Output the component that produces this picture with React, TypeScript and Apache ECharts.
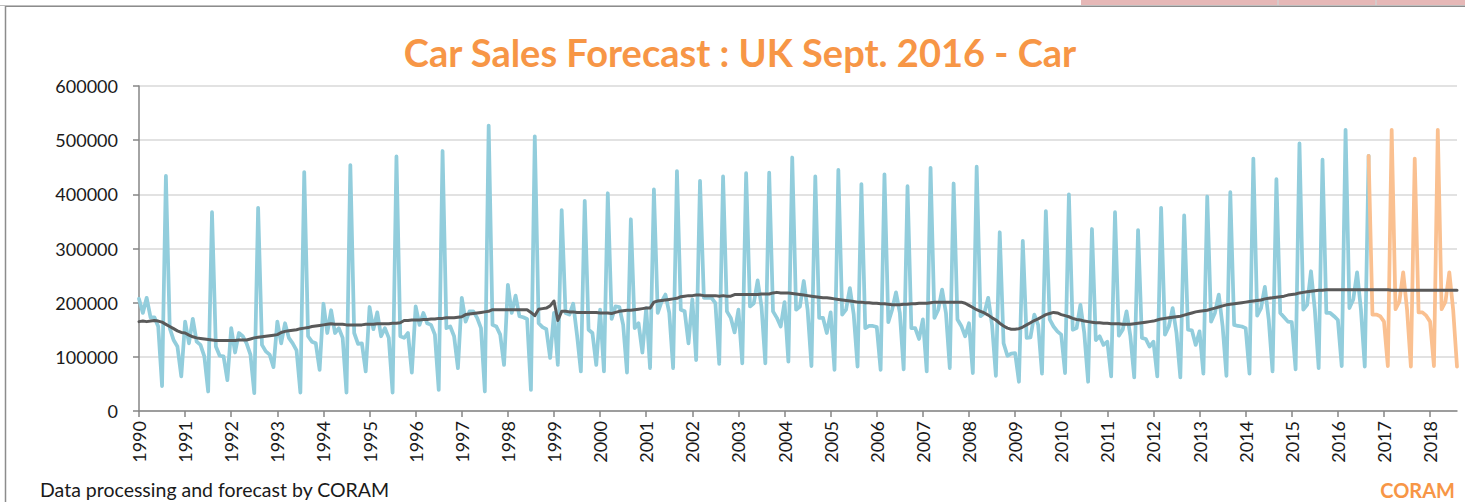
import React, { useEffect, useRef } from "react";
import * as echarts from "echarts";

// Tick labels (one per year) and month names used to build the monthly category axis
const years = [
  "1990", "1991", "1992", "1993", "1994", "1995", "1996", "1997", "1998", "1999",
  "2000", "2001", "2002", "2003", "2004", "2005", "2006", "2007", "2008", "2009",
  "2010", "2011", "2012", "2013", "2014", "2015", "2016", "2017", "2018",
];
const monthNames = ["Jan", "Feb", "Mar", "Apr", "May", "Jun", "Jul", "Aug", "Sep", "Oct", "Nov", "Dec"];

// Actual monthly registrations (thousands), Jan 1990 .. Sep 2016
const actual = [
  207, 181, 209, 173, 173, 156, 46, 434, 153, 131, 119, 64, // 1990
  165, 125, 170, 128, 122, 101, 36, 367, 119, 102, 101, 57, // 1991
  153, 108, 144, 138, 125, 104, 33, 375, 122, 110, 104, 81, // 1992
  165, 125, 162, 135, 125, 112, 34, 441, 138, 128, 125, 76, // 1993
  198, 144, 186, 144, 153, 135, 34, 454, 144, 124, 125, 73, // 1994
  192, 151, 182, 138, 153, 135, 34, 470, 138, 135, 144, 71, // 1995
  193, 159, 181, 162, 159, 141, 39, 480, 153, 156, 138, 79, // 1996
  209, 165, 184, 184, 172, 153, 36, 527, 159, 156, 141, 85, // 1997
  233, 181, 213, 175, 173, 170, 39, 507, 162, 155, 151, 98, // 1998
  181, 85, 371, 181, 178, 198, 140, 73, 388, 150, 144, 85, // 1999
  187, 73, 402, 170, 193, 192, 159, 71, 354, 153, 162, 108, // 2000
  190, 79, 409, 181, 202, 215, 181, 79, 443, 187, 184, 125, // 2001
  206, 94, 425, 209, 209, 209, 199, 87, 433, 184, 172, 145, // 2002
  187, 88, 439, 193, 199, 241, 193, 88, 440, 184, 172, 156, // 2003
  201, 91, 468, 187, 193, 240, 187, 83, 433, 172, 172, 144, // 2004
  182, 76, 445, 178, 187, 227, 178, 82, 419, 153, 157, 157, // 2005
  155, 76, 437, 164, 187, 219, 181, 77, 415, 153, 153, 133, // 2006
  169, 73, 449, 172, 187, 224, 181, 79, 420, 169, 157, 138, // 2007
  162, 70, 451, 175, 181, 209, 159, 65, 330, 125, 102, 106, // 2008
  107, 54, 314, 135, 136, 178, 159, 69, 369, 169, 156, 147, // 2009
  141, 70, 400, 150, 153, 196, 144, 54, 336, 131, 138, 122, // 2010
  128, 64, 367, 139, 150, 184, 138, 62, 334, 135, 133, 119, // 2011
  128, 64, 375, 141, 156, 190, 144, 62, 361, 150, 149, 122, // 2012
  147, 69, 396, 165, 181, 215, 157, 65, 404, 159, 157, 156, // 2013
  153, 69, 466, 176, 190, 229, 169, 73, 428, 181, 173, 165, // 2014
  164, 77, 494, 187, 196, 258, 187, 79, 464, 181, 181, 175, // 2015
  168, 83, 519, 190, 206, 256, 187, 82, 471, // 2016 (to Sep)
];

// Forecast (thousands), Sep 2016 .. Aug 2018
const forecast = [
  471, 178, 178, 175, // Sep-Dec 2016
  165, 83, 519, 188, 202, 256, 187, 82, 466, 182, 182, 176, // 2017
  165, 83, 519, 188, 202, 256, 187, 82, // 2018 (to Aug)
];

// Trend (thousands), Jan 1990 .. Aug 2018
const trend = [
  165, 166, 165, 166, 167, 166, 164, 160, 156, 152, 148, 145, // 1990
  144, 140, 137, 135, 134, 133, 132, 131, 130, 130, 130, 130, // 1991
  130, 130, 131, 131, 131, 133, 135, 136, 137, 138, 139, 140, // 1992
  141, 145, 147, 148, 149, 150, 152, 153, 154, 156, 157, 158, // 1993
  159, 160, 161, 160, 160, 160, 159, 159, 159, 159, 159, 160, // 1994
  160, 160, 161, 161, 161, 161, 162, 162, 163, 167, 167, 168, // 1995
  168, 168, 169, 169, 170, 170, 171, 171, 172, 172, 172, 173, // 1996
  174, 178, 179, 180, 181, 182, 183, 184, 187, 187, 187, 187, // 1997
  187, 187, 187, 187, 187, 187, 182, 176, 188, 189, 190, 194, // 1998
  203, 167, 184, 184, 183, 183, 182, 182, 182, 182, 182, 182, // 1999
  181, 181, 181, 180, 182, 184, 185, 186, 186, 187, 188, 189, // 2000
  190, 190, 201, 203, 204, 205, 206, 207, 208, 211, 212, 213, // 2001
  213, 214, 214, 213, 213, 213, 213, 212, 213, 212, 212, 215, // 2002
  215, 215, 215, 215, 215, 215, 216, 216, 216, 218, 219, 218, // 2003
  218, 218, 217, 216, 215, 214, 213, 212, 211, 210, 209, 209, // 2004
  208, 207, 206, 205, 204, 203, 202, 201, 201, 200, 200, 199, // 2005
  199, 198, 198, 197, 196, 196, 196, 197, 197, 198, 198, 199, // 2006
  199, 199, 200, 201, 201, 201, 201, 201, 201, 201, 201, 199, // 2007
  195, 191, 187, 184, 181, 177, 172, 168, 162, 157, 153, 151, // 2008
  151, 152, 155, 159, 163, 167, 170, 174, 178, 180, 182, 181, // 2009
  178, 176, 174, 171, 169, 168, 166, 165, 164, 163, 163, 162, // 2010
  162, 161, 161, 161, 160, 160, 160, 161, 162, 163, 164, 165, // 2011
  166, 168, 170, 171, 172, 173, 174, 175, 177, 179, 181, 183, // 2012
  184, 185, 186, 188, 190, 192, 194, 196, 197, 198, 199, 200, // 2013
  201, 202, 203, 204, 205, 207, 208, 209, 210, 211, 212, 214, // 2014
  215, 216, 218, 219, 220, 221, 222, 223, 223, 224, 224, 224, // 2015
  224, 224, 224, 224, 224, 224, 224, 224, 224, 224, 224, 224, // 2016
  224, 224, 223, 223, 223, 223, 223, 223, 223, 223, 223, 223, // 2017
  223, 223, 223, 223, 223, 223, 223, 223, // 2018
];

const UNIT = 1000;
const TITLE = "Car Sales Forecast : UK Sept. 2016 - Car";
const FOOTER = "Data processing and forecast by CORAM";
const BRAND = "CORAM";

export default function App() {
  const ref = useRef<HTMLDivElement>(null);

  useEffect(() => {
    if (!ref.current) return;
    const chart = echarts.init(ref.current, null, { renderer: "svg" });

    const categories = years
      .flatMap((y) => monthNames.map((m) => `${m} ${y}`))
      .slice(0, trend.length);
    const forecastStart = actual.length - 1;
    const actualData = actual.map((v) => v * UNIT);
    const forecastData = categories.map((_, i) =>
      i >= forecastStart && i - forecastStart < forecast.length
        ? forecast[i - forecastStart] * UNIT
        : null
    );
    const trendData = trend.map((v) => v * UNIT);

    const font = "Lato, 'Open Sans', sans-serif";

    chart.setOption({
      animation: false,
      backgroundColor: "#ffffff",
      textStyle: { fontFamily: font },
      grid: { left: 139, right: 8, top: 86, bottom: 91, containLabel: false },
      xAxis: {
        type: "category",
        data: categories,
        boundaryGap: false,
        axisLine: { show: true, lineStyle: { color: "#868686", width: 1.5 } },
        axisTick: { show: true, interval: 11, length: 6, lineStyle: { color: "#868686", width: 1.5 } },
        axisLabel: {
          interval: 11,
          rotate: 90,
          margin: 10,
          fontSize: 18,
          fontFamily: font,
          color: "#1a1a1a",
          formatter: (v: string) => v.split(" ")[1],
        },
        splitLine: { show: false },
      },
      yAxis: {
        type: "value",
        min: 0,
        max: 600000,
        interval: 100000,
        axisLine: { show: true, lineStyle: { color: "#868686", width: 1.5 } },
        axisTick: { show: true, length: 6, lineStyle: { color: "#868686", width: 1.5 } },
        axisLabel: {
          margin: 21,
          fontSize: 18,
          fontFamily: font,
          color: "#1a1a1a",
          formatter: (v: number) => String(v),
        },
        splitLine: { show: true, lineStyle: { color: "#D9D9D9", width: 1.5 } },
      },
      series: [
        {
          name: "Actual",
          type: "line",
          data: actualData,
          showSymbol: false,
          symbol: "none",
          lineStyle: { color: "#92CDDC", width: 3.75, join: "round", cap: "round" },
          z: 2,
        },
        {
          name: "Forecast",
          type: "line",
          data: forecastData,
          showSymbol: false,
          symbol: "none",
          connectNulls: false,
          lineStyle: { color: "#FAC090", width: 3.75, join: "round", cap: "round" },
          z: 3,
        },
        {
          name: "Trend",
          type: "line",
          data: trendData,
          showSymbol: false,
          symbol: "none",
          lineStyle: { color: "#595959", width: 3, join: "round", cap: "round" },
          z: 4,
        },
      ],
      graphic: [
        { type: "rect", shape: { x: 1081, y: 0, width: 384, height: 5 }, style: { fill: "#E6B8B7" }, silent: true },
        { type: "line", shape: { x1: 1278, y1: 0, x2: 1278, y2: 5 }, style: { stroke: "#D0D0D0", lineWidth: 1.5 }, silent: true },
        { type: "line", shape: { x1: 1376, y1: 0, x2: 1376, y2: 5 }, style: { stroke: "#D0D0D0", lineWidth: 1.5 }, silent: true },
        { type: "line", shape: { x1: 0, y1: 5.5, x2: 1465, y2: 5.5 }, style: { stroke: "#BFBFBF", lineWidth: 1 }, silent: true },
        { type: "line", shape: { x1: 5, y1: 6.5, x2: 1465, y2: 6.5 }, style: { stroke: "#8C8C8C", lineWidth: 1 }, silent: true },
        { type: "line", shape: { x1: 5.5, y1: 6, x2: 5.5, y2: 502 }, style: { stroke: "#8C8C8C", lineWidth: 1.5 }, silent: true },
        {
          type: "text",
          x: 740,
          y: 52,
          style: {
            text: TITLE,
            fill: "#F79646",
            font: `bold 38px ${font}`,
            textAlign: "center",
            textVerticalAlign: "middle",
          },
          silent: true,
        },
        {
          type: "text",
          x: 40,
          y: 489,
          style: {
            text: FOOTER,
            fill: "#1a1a1a",
            font: `19.5px ${font}`,
            textAlign: "left",
            textVerticalAlign: "middle",
          },
          silent: true,
        },
        {
          type: "text",
          x: 1455,
          y: 490,
          style: {
            text: BRAND,
            fill: "#F79646",
            font: `bold 20px ${font}`,
            textAlign: "right",
            textVerticalAlign: "middle",
          },
          silent: true,
        },
      ],
    });

    return () => chart.dispose();
  }, []);

  return (
    <div
      ref={ref}
      style={{ position: "fixed", left: 0, top: 0, width: 1465, height: 502, background: "#ffffff" }}
    />
  );
}
